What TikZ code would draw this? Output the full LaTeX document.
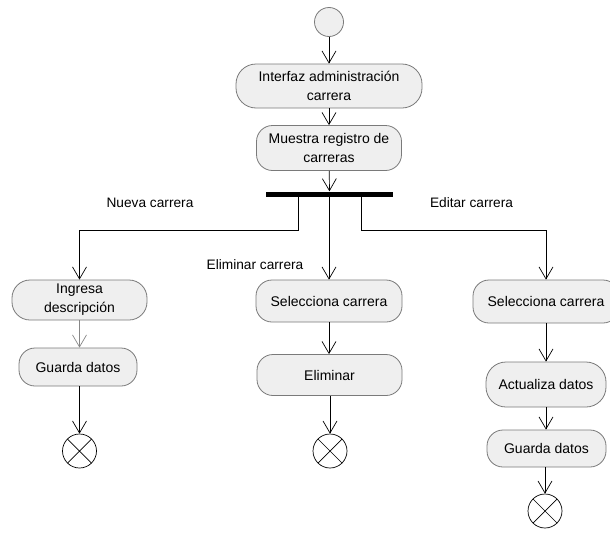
\documentclass[tikz,border=0pt]{standalone}
\usepackage{fontspec}
\setmainfont{Liberation Sans}
\usetikzlibrary{arrows.meta}
\definecolor{actfill}{HTML}{EFEFEF}
\definecolor{actline}{HTML}{7A7A7A}
\begin{document}
\begin{tikzpicture}[x=1pt,y=-1pt,
  activity/.style={draw=actline,fill=actfill,rounded corners=16pt,line width=0.8pt,
    align=center,font=\fontsize{14}{19}\selectfont,inner sep=0pt},
  flow/.style={draw=black,line width=0.7pt,-{Straight Barb[length=12pt,width=14pt,line width=0.7pt]}},
  softflow/.style={flow,draw=actline!90},
  finalnode/.style={circle,draw=black,line width=0.7pt,fill=white,minimum size=34pt,inner sep=0pt,
    path picture={\draw[line width=0.7pt] (path picture bounding box.north west) -- (path picture bounding box.south east)
      (path picture bounding box.north east) -- (path picture bounding box.south west);}},
  guard/.style={font=\fontsize{13.7}{16}\selectfont,inner sep=0pt}]
\clip (0,0) rectangle (610,533);
\fill[white] (0,0) rectangle (610,533);

% start and main trunk
\node[circle,draw=actline,fill=actfill,line width=0.8pt,minimum size=29pt,inner sep=0pt] (start) at (329,22) {};
\node[activity,rounded corners=20pt,minimum width=186pt,minimum height=44pt] (interfaz) at (329,86) {Interfaz administración\\carrera};
\node[activity,minimum width=145pt,minimum height=45pt] (muestra) at (329,148) {Muestra registro de\\carreras};
\node[fill=black,minimum width=127pt,minimum height=5pt,inner sep=0pt] (fork) at (329.5,194) {};

\draw[flow] (start) -- (interfaz);
\draw[flow] (interfaz) -- (muestra);
\draw[flow] (muestra) -- (fork);

% left branch
\node[activity,rounded corners=18pt,minimum width=135pt,minimum height=40pt] (ingresa) at (79.5,300) {Ingresa\\descripción};
\node[activity,minimum width=118pt,minimum height=38pt] (guarda1) at (78,367) {Guarda datos};
\node[finalnode] (end1) at (79.5,451) {};
\coordinate (forkL) at (298,196.5);
\draw[flow] (forkL) |- (79.5,230) -- (ingresa);
\draw[softflow] (ingresa) -- (guarda1.north -| ingresa);
\draw[flow] (guarda1.south -| end1) -- (end1);

% middle branch
\node[activity,minimum width=146pt,minimum height=42pt] (selec2) at (329,301) {Selecciona carrera};
\node[activity,minimum width=145pt,minimum height=41pt] (eliminar) at (329.5,375) {Eliminar};
\node[finalnode] (end2) at (330,451) {};
\draw[flow] (fork.south -| selec2) -- (selec2);
\draw[flow] (selec2) -- (eliminar.north -| selec2);
\draw[flow] (eliminar.south -| end2) -- (end2);

% right branch
\node[activity,minimum width=146pt,minimum height=43pt] (selec3) at (546,301.5) {Selecciona carrera};
\node[activity,rounded corners=20pt,minimum width=120pt,minimum height=45pt] (actualiza) at (546,384.5) {Actualiza datos};
\node[activity,minimum width=119pt,minimum height=37pt] (guarda3) at (546.5,448.5) {Guarda datos};
\node[finalnode] (end3) at (545,511) {};
\coordinate (forkR) at (361,196.5);
\draw[flow] (forkR) |- (546,230) -- (selec3);
\draw[flow] (selec3) -- (actualiza);
\draw[flow] (actualiza) -- (guarda3.north -| actualiza);
\draw[flow] (guarda3.south -| end3) -- (end3);

% guard labels
\node[guard] (lblNueva) at (150,203) {Nueva carrera};
\node[guard] (lblElim) at (255,265) {Eliminar carrera};
\node[guard] (lblEdit) at (471.5,203) {Editar carrera};
\end{tikzpicture}
\end{document}
